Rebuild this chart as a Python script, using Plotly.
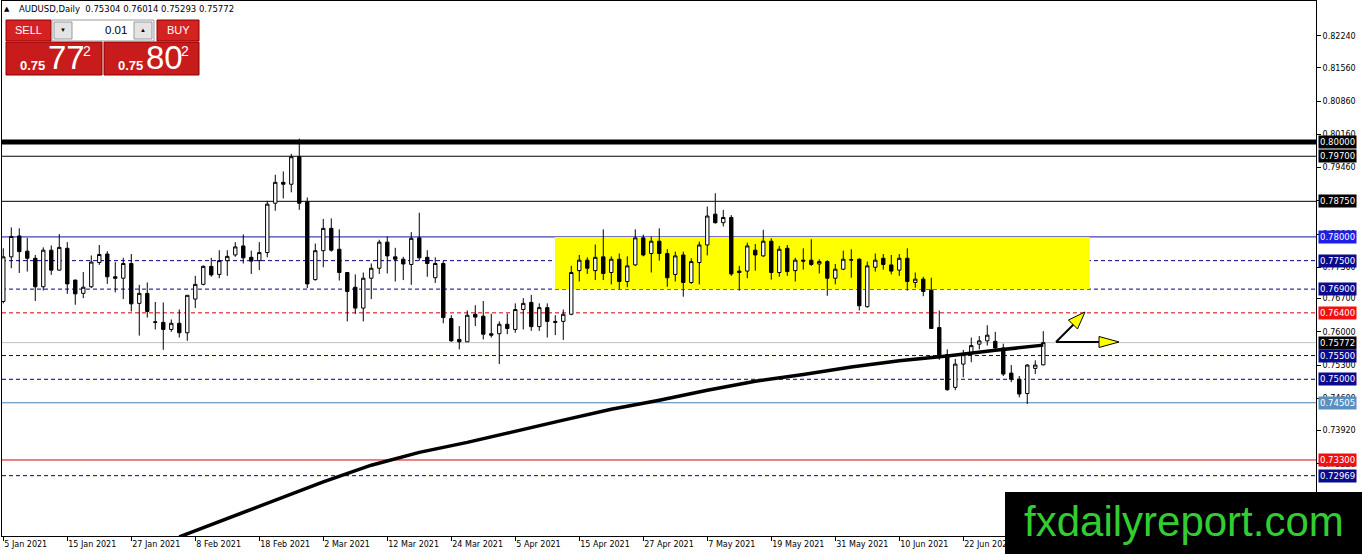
import pandas as pd
import plotly.graph_objects as go

# AUDUSD daily candles, 5 Jan 2021 .. 6 Jul 2021
dates = [d.strftime("%Y-%m-%d") for d in pd.bdate_range("2021-01-05", periods=131)]

opens = [
    0.7664, 0.7758, 0.7802, 0.7770, 0.7755, 0.7695, 0.7772, 0.7730, 0.7776, 0.7709,
    0.7681, 0.7695, 0.7746, 0.7764, 0.7716, 0.7713, 0.7744, 0.7660, 0.7681, 0.7621,
    0.7620, 0.7605, 0.7618, 0.7598, 0.7669, 0.7700, 0.7738, 0.7721, 0.7750, 0.7762,
    0.7781, 0.7757, 0.7750, 0.7767, 0.7871, 0.7915, 0.7911, 0.7969, 0.7874, 0.7710,
    0.7771, 0.7818, 0.7774, 0.7725, 0.7694, 0.7650, 0.7713, 0.7734, 0.7789, 0.7758,
    0.7753, 0.7742, 0.7798, 0.7757, 0.7714, 0.7744, 0.7628, 0.7584, 0.7579, 0.7637,
    0.7633, 0.7596, 0.7596, 0.7616, 0.7605, 0.7647, 0.7662, 0.7611, 0.7651, 0.7622,
    0.7622, 0.7637, 0.7729, 0.7751, 0.7729, 0.7758, 0.7725, 0.7753, 0.7706, 0.7741,
    0.7798, 0.7765, 0.7791, 0.7765, 0.7721, 0.7762, 0.7704, 0.7746, 0.7783, 0.7848,
    0.7830, 0.7841, 0.7728, 0.7728, 0.7772, 0.7760, 0.7791, 0.7725, 0.7776, 0.7729,
    0.7751, 0.7751, 0.7743, 0.7748, 0.7713, 0.7732, 0.7751, 0.7753, 0.7653, 0.7736,
    0.7755, 0.7741, 0.7730, 0.7755, 0.7704, 0.7711, 0.7688, 0.7609, 0.7552, 0.7483,
    0.7532, 0.7554, 0.7574, 0.7581, 0.7580, 0.7566, 0.7513, 0.7500, 0.7470, 0.7523,
    0.75304,
]
highs = [
    0.7776, 0.7820, 0.7818, 0.7798, 0.7762, 0.7778, 0.7782, 0.7806, 0.7789, 0.7710,
    0.7726, 0.7761, 0.7783, 0.7770, 0.7747, 0.7756, 0.7764, 0.7699, 0.7704, 0.7663,
    0.7662, 0.7626, 0.7647, 0.7677, 0.7718, 0.7740, 0.7756, 0.7772, 0.7772, 0.7789,
    0.7805, 0.7771, 0.7789, 0.7876, 0.7931, 0.7938, 0.7975, 0.8007, 0.7883, 0.7786,
    0.7838, 0.7839, 0.7816, 0.7725, 0.7721, 0.7725, 0.7744, 0.7794, 0.7801, 0.7777,
    0.7758, 0.7810, 0.7851, 0.7772, 0.7757, 0.7749, 0.7635, 0.7612, 0.7645, 0.7656,
    0.7665, 0.7638, 0.7622, 0.7638, 0.7660, 0.7671, 0.7678, 0.7660, 0.7660, 0.7635,
    0.7647, 0.7739, 0.7762, 0.7757, 0.7784, 0.7816, 0.7759, 0.7765, 0.7759, 0.7816,
    0.7805, 0.7801, 0.7818, 0.7774, 0.7769, 0.7769, 0.7755, 0.7790, 0.7864, 0.7892,
    0.7857, 0.7846, 0.7739, 0.7788, 0.7785, 0.7815, 0.7797, 0.7781, 0.7783, 0.7756,
    0.7776, 0.7795, 0.7753, 0.7751, 0.7743, 0.7771, 0.7774, 0.7755, 0.7748, 0.7765,
    0.7764, 0.7762, 0.7764, 0.7776, 0.7725, 0.7716, 0.7714, 0.7645, 0.7563, 0.7543,
    0.7562, 0.7588, 0.7591, 0.7614, 0.7600, 0.7575, 0.7530, 0.7507, 0.7532, 0.7540,
    0.76014,
]
lows = [
    0.7660, 0.7734, 0.7724, 0.7727, 0.7665, 0.7687, 0.7720, 0.7729, 0.7680, 0.7657,
    0.7671, 0.7692, 0.7741, 0.7701, 0.7683, 0.7669, 0.7643, 0.7592, 0.7630, 0.7605,
    0.7562, 0.7600, 0.7588, 0.7581, 0.7650, 0.7698, 0.7716, 0.7713, 0.7718, 0.7758,
    0.7744, 0.7722, 0.7730, 0.7757, 0.7855, 0.7881, 0.7894, 0.7857, 0.7692, 0.7708,
    0.7736, 0.7769, 0.7708, 0.7622, 0.7638, 0.7622, 0.7669, 0.7722, 0.7723, 0.7706,
    0.7709, 0.7699, 0.7750, 0.7716, 0.7703, 0.7618, 0.7579, 0.7563, 0.7579, 0.7612,
    0.7584, 0.7588, 0.7532, 0.7595, 0.7598, 0.7605, 0.7602, 0.7602, 0.7588, 0.7593,
    0.7583, 0.7635, 0.7706, 0.7722, 0.7709, 0.7709, 0.7700, 0.7690, 0.7694, 0.7739,
    0.7759, 0.7725, 0.7750, 0.7695, 0.7706, 0.7674, 0.7701, 0.7700, 0.7761, 0.7828,
    0.7822, 0.7718, 0.7687, 0.7713, 0.7729, 0.7758, 0.7710, 0.7716, 0.7718, 0.7706,
    0.7731, 0.7739, 0.7723, 0.7676, 0.7700, 0.7730, 0.7714, 0.7645, 0.7651, 0.7727,
    0.7731, 0.7721, 0.7718, 0.7687, 0.7693, 0.7675, 0.7607, 0.7541, 0.7476, 0.7477,
    0.7504, 0.7536, 0.7563, 0.7571, 0.7562, 0.7507, 0.7494, 0.7462, 0.7448, 0.7511,
    0.75293,
]
closes = [
    0.7758, 0.7801, 0.7769, 0.7755, 0.7695, 0.7772, 0.7730, 0.7778, 0.7701, 0.7680,
    0.7694, 0.7747, 0.7763, 0.7716, 0.7713, 0.7744, 0.7659, 0.7681, 0.7643, 0.7620,
    0.7605, 0.7618, 0.7598, 0.7677, 0.7700, 0.7738, 0.7720, 0.7750, 0.7759, 0.7779,
    0.7756, 0.7749, 0.7767, 0.7869, 0.7915, 0.7911, 0.7969, 0.7871, 0.7701, 0.7771,
    0.7818, 0.7772, 0.7725, 0.7685, 0.7650, 0.7713, 0.7734, 0.7789, 0.7760, 0.7753,
    0.7743, 0.7797, 0.7756, 0.7744, 0.7744, 0.7630, 0.7581, 0.7579, 0.7635, 0.7631,
    0.7595, 0.7593, 0.7616, 0.7607, 0.7647, 0.7660, 0.7611, 0.7651, 0.7622, 0.7620,
    0.7637, 0.7725, 0.7751, 0.7734, 0.7757, 0.7723, 0.7753, 0.7706, 0.7739, 0.7798,
    0.7762, 0.7791, 0.7765, 0.7714, 0.7760, 0.7704, 0.7748, 0.7783, 0.7844, 0.7830,
    0.7841, 0.7722, 0.7725, 0.7781, 0.7762, 0.7791, 0.7725, 0.7774, 0.7727, 0.7751,
    0.7749, 0.7742, 0.7748, 0.7713, 0.7732, 0.7753, 0.7752, 0.7655, 0.7739, 0.7751,
    0.7742, 0.7728, 0.7755, 0.7706, 0.7711, 0.7685, 0.7607, 0.7550, 0.7478, 0.7532,
    0.7552, 0.7571, 0.7581, 0.7593, 0.7566, 0.7511, 0.7500, 0.7469, 0.7530, 0.7530,
    0.75772,
]

# 200-day moving average, read at a few points along the curve
ma_dates = ["2021-02-04", "2021-02-12", "2021-02-22", "2021-03-02", "2021-03-10",
            "2021-03-18", "2021-03-26", "2021-04-05", "2021-04-13", "2021-04-21",
            "2021-04-29", "2021-05-07", "2021-05-17", "2021-05-25", "2021-06-02",
            "2021-06-10", "2021-06-18", "2021-06-28", "2021-07-06"]
ma_values = [0.7168, 0.7207, 0.7246, 0.7284, 0.7319, 0.7346, 0.7367, 0.7391, 0.7414,
             0.7437, 0.7456, 0.7477, 0.7496, 0.7510, 0.7526, 0.7539, 0.7549, 0.7561, 0.7572]

# horizontal levels drawn on the chart
levels = [0.80000, 0.79700, 0.78750, 0.78000, 0.77500, 0.76900, 0.76400,
          0.75500, 0.75000, 0.74505, 0.73300, 0.72969]
ask = 0.75802

# axis ticks
tick_dates = ["2021-01-05", "2021-01-15", "2021-01-27", "2021-02-08", "2021-02-18",
              "2021-03-02", "2021-03-12", "2021-03-24", "2021-04-05", "2021-04-15",
              "2021-04-27", "2021-05-07", "2021-05-19", "2021-05-31", "2021-06-10",
              "2021-06-22", "2021-07-02"]
tick_labels = ["5 Jan 2021", "15 Jan 2021", "27 Jan 2021", "8 Feb 2021", "18 Feb 2021",
               "2 Mar 2021", "12 Mar 2021", "24 Mar 2021", "5 Apr 2021", "15 Apr 2021",
               "27 Apr 2021", "7 May 2021", "19 May 2021", "31 May 2021", "10 Jun 2021",
               "22 Jun 2021", "2 Jul 2021"]
price_ticks = [0.8224, 0.8156, 0.8086, 0.8016, 0.7946, 0.7876, 0.7806, 0.7736,
               0.7670, 0.7600, 0.7530, 0.7460, 0.7392, 0.7322]

# styles of the levels
level_colors = ["black", "black", "black", "#1212a0", "#000080", "#000080", "#d00000",
                "#000080", "#000080", "#4a80ad", "#e00000", "#000080"]
level_bg = ["black", "black", "black", "#1e1ee6", "#0a0a8c", "#0a0a8c", "#f01010",
            "#0a0a8c", "#0a0a8c", "#5a8fc2", "#f01010", "#0a0a8c"]
level_widths = [5, 1, 1, 1, 1, 1, 1, 1, 1, 1, 1, 1]
level_dash = ["solid", "solid", "solid", "solid", "4px,3px", "4px,3px", "4px,3px",
              "4px,3px", "4px,3px", "solid", "solid", "4px,3px"]

W, H = 1362, 554
PL, PR, PT, PB = 2, 1316, 1, 536   # plot area in pixels


def px(x):
    return (x - PL) / (PR - PL)


def py(y):
    return (PB - y) / (PB - PT)


fig = go.Figure()

fig.add_trace(go.Candlestick(
    x=dates, open=opens, high=highs, low=lows, close=closes,
    increasing=dict(line=dict(color="black", width=1), fillcolor="white"),
    decreasing=dict(line=dict(color="black", width=1), fillcolor="black"),
    whiskerwidth=0, showlegend=False, name="AUDUSD"
))

fig.add_trace(go.Scatter(
    x=ma_dates, y=ma_values, mode="lines",
    line=dict(color="black", width=3.5), showlegend=False, name="MA 200"
))

shapes = []
annotations = []

# yellow zone
shapes.append(dict(type="rect", xref="x", yref="y", x0=68.96, x1=135.8,
                   y0=levels[5], y1=levels[3], fillcolor="#ffff00",
                   line=dict(width=0), layer="below"))

# level lines + price boxes
for lv, col, bg, lw, ds in zip(levels, level_colors, level_bg, level_widths, level_dash):
    shapes.append(dict(type="line", xref="paper", yref="y", x0=0, x1=1, y0=lv, y1=lv,
                       line=dict(color=col, width=lw, dash=ds), layer="below"))
    annotations.append(dict(xref="paper", yref="y", x=1, y=lv, xanchor="left",
                            yanchor="middle", xshift=2, text=f"{lv:.5f}",
                            showarrow=False, bgcolor=bg, borderpad=1,
                            font=dict(color="white", size=8.5, family="DejaVu Sans")))

# bid line
bid = closes[-1]
shapes.append(dict(type="line", xref="paper", yref="y", x0=0, x1=1, y0=bid, y1=bid,
                   line=dict(color="#c0c0c0", width=1), layer="below"))
annotations.append(dict(xref="paper", yref="y", x=1, y=bid, xanchor="left",
                        yanchor="middle", xshift=2, text=f"{bid:.5f}", showarrow=False,
                        bgcolor="black", borderpad=1,
                        font=dict(color="white", size=8.5, family="DejaVu Sans")))

# arrows (stems + yellow heads)
for x0, y0, x1, y1 in [(1056, 342, 1074, 324), (1056, 342, 1101, 342)]:
    shapes.append(dict(type="line", xref="paper", yref="paper",
                       x0=px(x0), y0=py(y0), x1=px(x1), y1=py(y1),
                       line=dict(color="black", width=2)))
for tri in [[(1085, 312), (1077.5, 329), (1068.5, 320)],
            [(1119, 342), (1099, 336.5), (1099, 347.5)]]:
    path = "M " + " L ".join(f"{px(a):.5f},{py(b):.5f}" for a, b in tri) + " Z"
    shapes.append(dict(type="path", xref="paper", yref="paper", path=path,
                       fillcolor="#ffff00", line=dict(color="black", width=1)))

# one-click trading panel
panel = [(6, 20, 51, 41, "#d42222"), (157, 20, 199, 41, "#d42222"),
         (6, 42, 102, 75, "#c81b1b"), (104, 42, 199, 75, "#c81b1b"),
         (52, 20, 154, 41, "white"), (54, 22, 72, 39, "#e4e4e4"), (134, 22, 152, 39, "#e4e4e4")]
for x0, y0, x1, y1, c in panel:
    edge = "#9a9a9a" if c in ("white", "#e4e4e4") else "#8c0000"
    shapes.append(dict(type="rect", xref="paper", yref="paper",
                       x0=px(x0), x1=px(x1), y0=py(y1), y1=py(y0),
                       fillcolor=c, line=dict(color=edge, width=1)))


def label(text, x, y, size, color="white", family="Liberation Sans", anchor="center"):
    annotations.append(dict(xref="paper", yref="paper", x=px(x), y=py(y), text=text,
                            showarrow=False, xanchor=anchor, yanchor="middle",
                            font=dict(size=size, color=color, family=family)))


label("SELL", 28, 30.5, 11)
label("BUY", 178, 30.5, 11)
label("0.01", 129, 30.5, 11.5, color="black", anchor="right")
label("▼", 63, 30.5, 6, color="black")
label("▲", 143, 30.5, 6, color="black")
for price, cx in [(bid, 6), (ask, 104)]:
    s = f"{price:.5f}"
    label(f"<b>{s[:4]}</b>", cx + 26, 65, 13)
    label(s[4:6], cx + 60, 57, 33)
    label(s[6], cx + 81, 51, 14)

# title line
label("▲", 7, 9, 7, color="black", family="DejaVu Sans")
label(f"AUDUSD,Daily  {opens[-1]:.5f} {highs[-1]:.5f} {lows[-1]:.5f} {closes[-1]:.5f}",
      17, 9.5, 8.5, color="black", family="DejaVu Sans", anchor="left")

# watermark
shapes.append(dict(type="rect", xref="paper", yref="paper",
                   x0=px(1005), x1=px(1362), y0=py(554), y1=py(492),
                   fillcolor="black", line=dict(width=0), layer="above"))
label("fxdailyreport.com", 1184, 521, 42, color="#33cc33")

fig.update_layout(
    width=W, height=H,
    margin=dict(l=PL, r=W - PR, t=PT, b=H - PB),
    paper_bgcolor="white", plot_bgcolor="white",
    font=dict(family="DejaVu Sans", size=8, color="black"),
    boxgap=0.4,
    showlegend=False,
    shapes=shapes,
    annotations=annotations,
    xaxis=dict(
        type="category", range=[-0.16, 164.09],
        tickvals=tick_dates, ticktext=tick_labels,
        ticks="outside", ticklen=4, tickcolor="black",
        ticklabelposition="outside right",
        showgrid=False, zeroline=False,
        showline=True, linecolor="black", linewidth=1, mirror=True,
        rangeslider=dict(visible=False),
    ),
    yaxis=dict(
        side="right", range=[0.71698, 0.82971],
        tickvals=price_ticks, tickformat=".5f",
        ticks="outside", ticklen=4, tickcolor="black",
        showgrid=False, zeroline=False,
        showline=True, linecolor="black", linewidth=1, mirror=True,
    ),
)

fig.write_html("out.html", config={"displayModeBar": False},
               post_script="document.body.style.margin='0';")
